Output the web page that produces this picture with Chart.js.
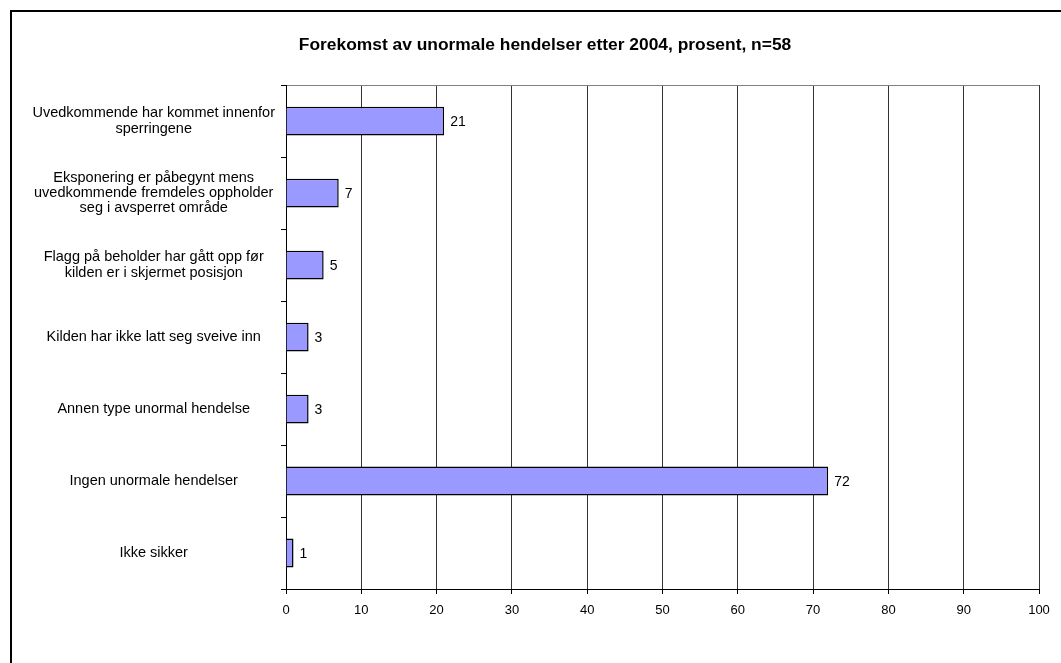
<!DOCTYPE html>
<html>
<head>
<meta charset="utf-8">
<script src="https://cdn.jsdelivr.net/npm/chart.js@4"></script>
<style>
  html, body { margin: 0; padding: 0; background: #fff; overflow: hidden; width: 1061px; height: 663px; }
  #frame { position: absolute; left: 10px; top: 10px; width: 1070px; height: 700px; border-left: 2px solid #000; border-top: 2px solid #000; box-sizing: border-box; }
  #wrap { position: absolute; left: 10px; top: 10px; width: 1070px; height: 653px; }
</style>
</head>
<body>
<div id="frame"></div>
<div id="wrap"><canvas id="chart" width="1070" height="653"></canvas></div>
<script>
const categories = [
    ['Uvedkommende har kommet innenfor', 'sperringene'],
    ['Eksponering er påbegynt mens', 'uvedkommende fremdeles oppholder', 'seg i avsperret område'],
    ['Flagg på beholder har gått opp før', 'kilden er i skjermet posisjon'],
    'Kilden har ikke latt seg sveive inn',
    'Annen type unormal hendelse',
    'Ingen unormale hendelser',
    'Ikke sikker'
];
const values = [21, 7, 5, 3, 3, 72, 1];
const chartTitle = 'Forekomst av unormale hendelser etter 2004, prosent, n=58';

Chart.defaults.font.family = '"Liberation Sans", Arial, sans-serif';
Chart.defaults.color = '#000';

// verdier ved enden av stolpene
const valueLabels = {
    id: 'valueLabels',
    afterDatasetsDraw(chart) {
        const ctx = chart.ctx;
        const meta = chart.getDatasetMeta(0);
        ctx.save();
        ctx.font = '14px "Liberation Sans", Arial, sans-serif';
        ctx.fillStyle = '#000';
        ctx.textAlign = 'left';
        ctx.textBaseline = 'middle';
        meta.data.forEach((bar, i) => {
            const p = bar.getProps(['x', 'y']);
            ctx.fillText(String(values[i]), p.x + 6, p.y + 1);
        });
        ctx.restore();
    }
};

new Chart(document.getElementById('chart').getContext('2d'), {
    type: 'bar',
    data: {
        labels: categories,
        datasets: [{
            data: values,
            backgroundColor: '#9999FF',
            borderColor: '#000',
            borderWidth: 1.5,
            barPercentage: 0.4,
            categoryPercentage: 1
        }]
    },
    options: {
        indexAxis: 'y',
        responsive: false,
        maintainAspectRatio: false,
        animation: false,
        layout: { padding: { top: 0, left: 0, right: 0, bottom: 44 } },
        plugins: {
            legend: { display: false },
            tooltip: { enabled: false },
            title: {
                display: true,
                text: chartTitle,
                font: { size: 17.4, weight: 'bold', lineHeight: 1.2 },
                color: '#000',
                padding: { top: 25, bottom: 29.2 }
            }
        },
        scales: {
            x: {
                min: 0,
                max: 100,
                ticks: { stepSize: 10, font: { size: 13 }, padding: 9, maxRotation: 0 },
                grid: { color: '#333', tickColor: '#000', tickLength: 5 },
                border: { color: '#000', width: 1 },
                afterFit: s => { s.height = 30; }
            },
            y: {
                offset: true,
                ticks: { font: { size: 14.5, lineHeight: 1.05 }, padding: 6, crossAlign: 'center' },
                grid: {
                    offset: true,
                    color: c => c.index === 0 ? '#808080' : 'rgba(0,0,0,0)',
                    tickColor: '#000',
                    tickLength: 5
                },
                border: { color: '#000', width: 1 },
                afterFit: s => { s.width = 276; }
            },
            // tom akse til høyre, holder plass slik at tittelen blir sentrert
            yRight: {
                position: 'right',
                type: 'linear',
                ticks: { display: false },
                grid: { display: false },
                border: { display: false },
                afterFit: s => { s.width = 41; }
            }
        }
    },
    plugins: [valueLabels]
});
</script>
</body>
</html>
